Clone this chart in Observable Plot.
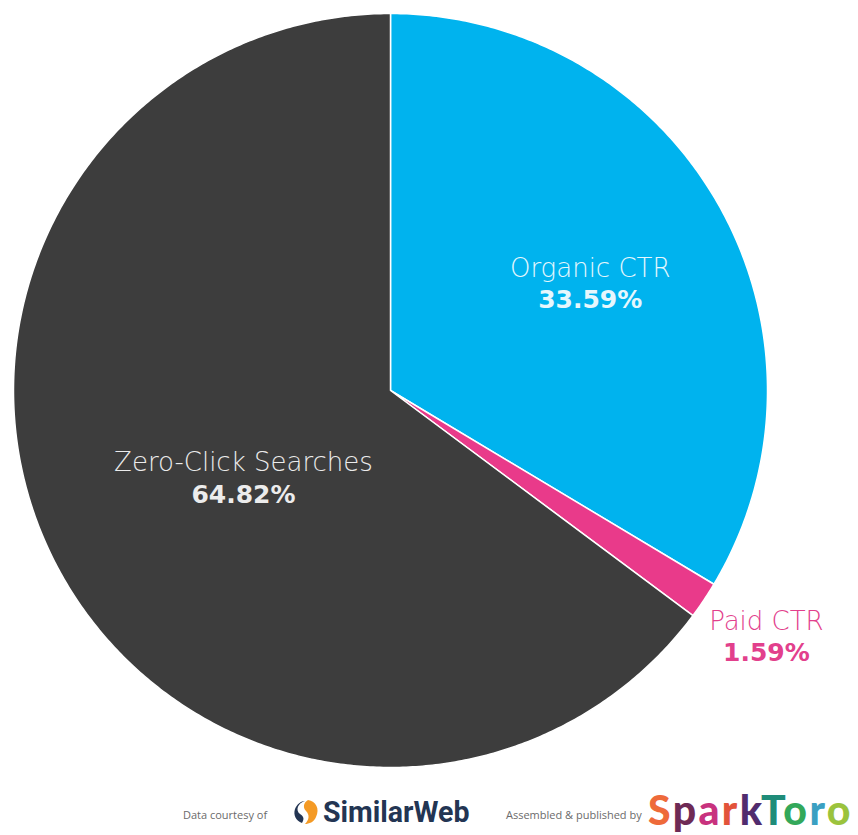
<!DOCTYPE html>
<html>
<head>
<meta charset="utf-8">
<script src="https://cdn.jsdelivr.net/npm/d3@7"></script>
<script src="https://cdn.jsdelivr.net/npm/@observablehq/plot@0.6"></script>
<style>
  html, body { margin: 0; padding: 0; background: #ffffff; }
  #chart { width: 858px; }
  #footer { position: relative; width: 858px; height: 45px; font-family: "Open Sans", sans-serif; }
  .small { position: absolute; font-size: 11px; color: #6b6b6b; top: 17px; }
  .sw { position: absolute; left: 292px; top: 4px; display: flex; align-items: center; }
  .swtext { font-family: "Roboto", sans-serif; font-weight: 700; font-size: 30px; color: #233553; letter-spacing: 0px; transform: scaleX(0.95); transform-origin: left center; margin-left: 3px; }
  .st { position: absolute; left: 648px; top: -5px; font-family: "Lato", sans-serif; font-weight: 900; font-size: 41px; letter-spacing: 2.4px; }
</style>
</head>
<body>
<div id="chart"></div>
<div id="footer">
  <span class="small" style="left:183px;">Data courtesy of</span>
  <div class="sw">
    <svg width="28" height="28" viewBox="0 0 28 28">
      <path d="M13 3 C 6 5, 3 12, 8 16 C 11 18, 13 20, 10 25 C 4 23, 1 17, 3 11 C 5 6, 9 3, 13 3 Z" fill="#233553"/>
      <path d="M16 2 C 24 3, 28 11, 24 19 C 22 24, 17 26, 13 26 C 17 22, 18 17, 14 13 C 11 10, 11 5, 16 2 Z" fill="#f49a25"/>
    </svg>
    <span class="swtext">SimilarWeb</span>
  </div>
  <span class="small" style="left:506px;">Assembled &amp; published by</span>
  <div class="st"><span style="color:#ee6a3a">S</span><span style="color:#6e2a55">p</span><span style="color:#c8327e">a</span><span style="color:#e2533a">r</span><span style="color:#512c6e">k</span><span style="color:#1f8c79">T</span><span style="color:#33a85a">o</span><span style="color:#3aa0c2">r</span><span style="color:#9bc33d">o</span></div>
</div>
<script>
const categories = ["Organic CTR", "Paid CTR", "Zero-Click Searches"];
const values = [33.59, 1.59, 64.82];
const valueLabels = ["33.59%", "1.59%", "64.82%"];
const colors = ["#00b3ee", "#e93a8a", "#3d3d3d"];
const labelColors = ["#e6f7fd", "#e2408c", "#ececec"];

const R = 377;            // pie radius in data units (= pixels)
// label placement: fraction of radius and angle (degrees clockwise from top)
const labelPlace = {
  "Organic CTR": {r: 0.60, angle: 62},
  "Paid CTR": {r: 1.193, angle: 123.3},
  "Zero-Click Searches": {r: 0.455, angle: 239}
};

const total = d3.sum(values);
let acc = 0;
const slices = categories.map((c, i) => {
  const a0 = acc / total * 2 * Math.PI;
  acc += values[i];
  const a1 = acc / total * 2 * Math.PI;
  return {category: c, value: values[i], a0, a1, label: valueLabels[i], color: colors[i], labelColor: labelColors[i]};
});

// polygon points of each slice: center, arc, back to center
const pts = [];
for (const s of slices) {
  pts.push({category: s.category, x: 0, y: 0});
  const n = Math.max(4, Math.ceil((s.a1 - s.a0) / (Math.PI / 360)));
  for (let k = 0; k <= n; k++) {
    const a = s.a0 + (s.a1 - s.a0) * k / n;
    pts.push({category: s.category, x: R * Math.sin(a), y: R * Math.cos(a)});
  }
  pts.push({category: s.category, x: 0, y: 0});
}

const labels = slices.map(s => {
  const p = labelPlace[s.category];
  const m = p.angle * Math.PI / 180;
  const r = R * p.r;
  return {...s, x: r * Math.sin(m), y: r * Math.cos(m)};
});

const chart = Plot.plot({
  width: 858,
  height: 790,
  margin: 0,
  x: {domain: [-390, 468], axis: null},
  y: {domain: [-400, 390], axis: null},
  color: {domain: categories, range: colors},
  style: {background: "#ffffff"},
  marks: [
    Plot.line(pts, {x: "x", y: "y", z: "category", fill: "category", stroke: "#ffffff", strokeWidth: 1.5, strokeLinejoin: "round", curve: "linear"}),
    Plot.text(labels, {x: "x", y: "y", text: "category", dy: -16, fill: "labelColor", fontSize: 26, fontFamily: "DejaVu Sans", fontWeight: 300}),
    Plot.text(labels, {x: "x", y: "y", text: "label", dy: 16, fill: "labelColor", fontSize: 25, fontFamily: "DejaVu Sans", fontWeight: 700})
  ]
});
document.getElementById("chart").appendChild(chart);
</script>
</body>
</html>
